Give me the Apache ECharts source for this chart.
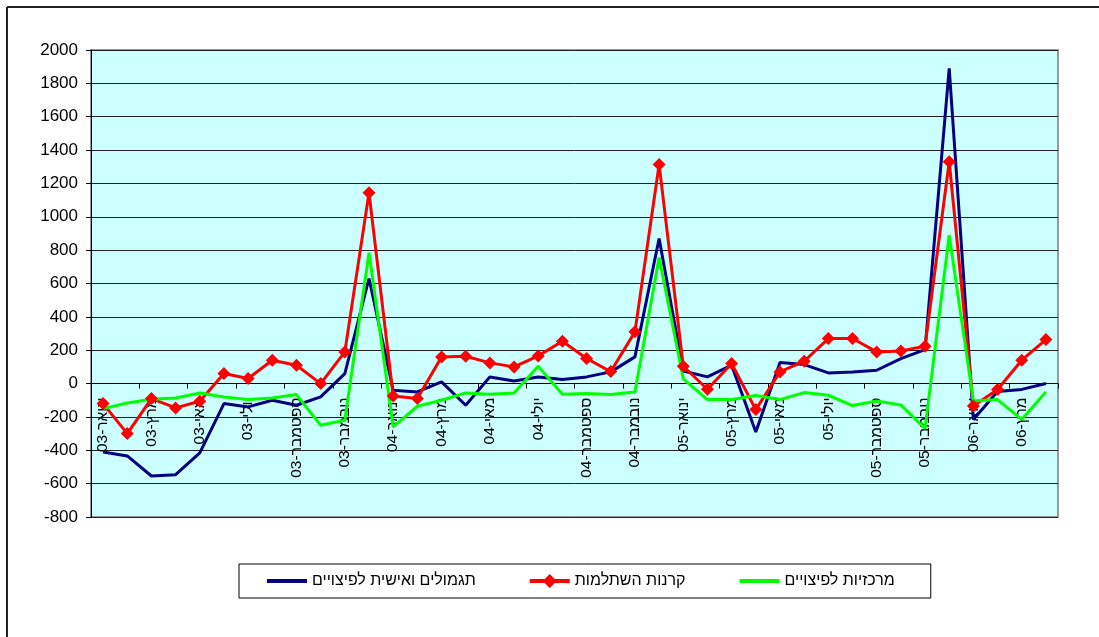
<!DOCTYPE html>
<html>
<head>
<meta charset="utf-8">
<script src="https://cdn.jsdelivr.net/npm/echarts@6/dist/echarts.min.js"></script>
<style>
html,body{margin:0;padding:0;background:#fff;}
#chart{width:1099px;height:637px;}
</style>
</head>
<body>
<div id="chart"></div>
<script>
const categories = [
 'ינואר-03','פברואר-03','מרץ-03','אפריל-03','מאי-03','יוני-03','יולי-03','אוגוסט-03','ספטמבר-03','אוקטובר-03','נובמבר-03','דצמבר-03',
 'ינואר-04','פברואר-04','מרץ-04','אפריל-04','מאי-04','יוני-04','יולי-04','אוגוסט-04','ספטמבר-04','אוקטובר-04','נובמבר-04','דצמבר-04',
 'ינואר-05','פברואר-05','מרץ-05','אפריל-05','מאי-05','יוני-05','יולי-05','אוגוסט-05','ספטמבר-05','אוקטובר-05','נובמבר-05','דצמבר-05',
 'ינואר-06','פברואר-06','מרץ-06','אפריל-06'
];
const seriesNames = ['תגמולים ואישית לפיצויים','קרנות השתלמות','מרכזיות לפיצויים'];
const tagmulim = [-410,-434,-554,-546,-416,-120,-140,-100,-130,-80,60,630,
 -40,-50,10,-130,40,16,40,24,40,70,160,870,
 75,40,110,-290,126,114,64,70,80,150,204,1890,
 -215,-48,-35,0];
const hishtalmut = [-120,-300,-90,-146,-106,60,30,140,110,0,190,1144,
 -74,-90,160,164,124,100,166,254,150,72,310,1314,
 104,-34,120,-156,70,134,270,270,190,196,224,1330,
 -134,-36,140,264];
const merkaziot = [-150,-116,-94,-86,-56,-80,-96,-86,-66,-250,-220,784,
 -260,-136,-100,-56,-64,-56,104,-64,-60,-66,-50,756,
 28,-96,-96,-72,-96,-54,-70,-132,-105,-128,-270,890,
 -105,-96,-215,-50];
const yMin = -800, yMax = 2000, yStep = 200;

const font = "'Liberation Sans', Arial, sans-serif";
const gridTop = 50, gridBottom = 120, H = 637;
const plotH = H - gridTop - gridBottom;
const zeroOffset = -(plotH * (0 - yMin) / (yMax - yMin));

const lineIcon = 'path://M0,0L0,0M0,5L40,5L40,9L0,9ZM40,14L40,14';
const diamondLineIcon = 'path://M0,5L15,5L20,0L25,5L40,5L40,9L25,9L20,14L15,9L0,9Z';

const chart = echarts.init(document.getElementById('chart'), null, {renderer:'canvas'});
chart.setOption({
  animation:false,
  backgroundColor:'#fff',
  textStyle:{fontFamily:font},
  grid:{left:91,right:41,top:gridTop,bottom:gridBottom,show:true,backgroundColor:'#CCFFFF',borderColor:'#999',borderWidth:2},
  graphic:[
    {type:'line',shape:{x1:7,y1:7,x2:1099,y2:7},style:{stroke:'#222',lineWidth:2},silent:true},
    {type:'line',shape:{x1:7,y1:7,x2:7,y2:637},style:{stroke:'#222',lineWidth:2},silent:true}
  ],
  legend:{
    data:[{name:seriesNames[0],icon:lineIcon},{name:seriesNames[1],icon:diamondLineIcon},{name:seriesNames[2],icon:lineIcon}],
    left:239, top:564,
    padding:[9,36,9,28],
    itemWidth:40, itemHeight:14, itemGap:54,
    borderColor:'#000', borderWidth:1,
    textStyle:{fontFamily:font,fontSize:16,color:'#000'}
  },
  xAxis:{
    type:'category',
    data:categories,
    boundaryGap:true,
    offset:zeroOffset,
    axisLine:{onZero:false,lineStyle:{color:'#000',width:1}},
    axisTick:{show:true,interval:1,length:5,lineStyle:{color:'#000'}},
    axisLabel:{interval:1,rotate:90,margin:14,fontSize:15.5,color:'#000',fontFamily:font,
      formatter:v => '\u202B' + v + '\u202C'},
    splitLine:{show:false}
  },
  yAxis:{
    type:'value',
    min:yMin,max:yMax,interval:yStep,
    axisLine:{show:true,lineStyle:{color:'#000',width:1}},
    axisTick:{show:true,length:5,lineStyle:{color:'#000'}},
    axisLabel:{fontSize:17,color:'#000',margin:13,fontFamily:font,formatter:v => String(v)},
    splitLine:{show:true,lineStyle:{color:'#222',width:1}}
  },
  series:[
    {name:seriesNames[0],type:'line',data:tagmulim,symbol:'none',lineStyle:{color:'#000080',width:3},itemStyle:{color:'#000080'}},
    {name:seriesNames[1],type:'line',data:hishtalmut,symbol:'diamond',symbolSize:13,showAllSymbol:true,lineStyle:{color:'#FF0000',width:3},itemStyle:{color:'#FF0000'}},
    {name:seriesNames[2],type:'line',data:merkaziot,symbol:'none',lineStyle:{color:'#00FF00',width:3},itemStyle:{color:'#00FF00'}}
  ]
});
</script>
</body>
</html>
